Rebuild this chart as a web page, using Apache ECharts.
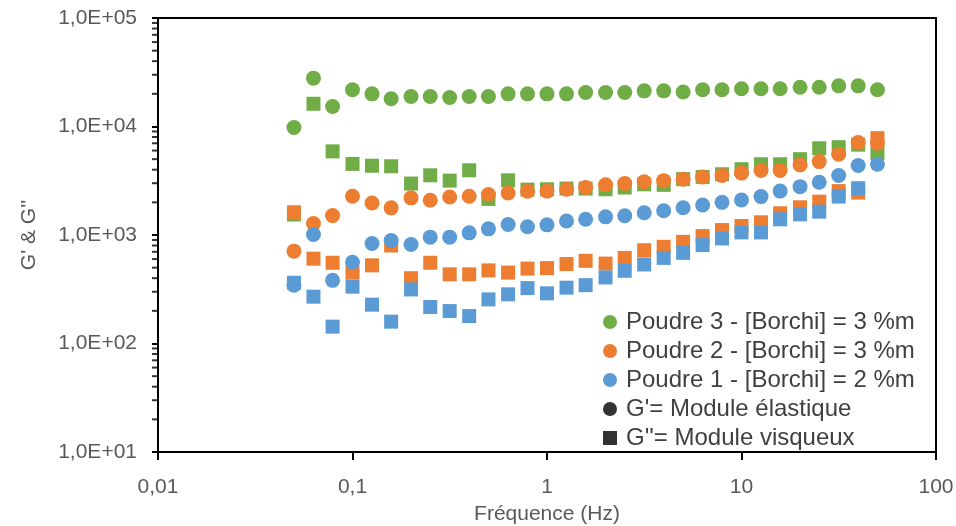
<!DOCTYPE html>
<html>
<head>
<meta charset="utf-8">
<script src="https://cdn.jsdelivr.net/npm/echarts@6/dist/echarts.min.js"></script>
<style>html,body{margin:0;padding:0;background:#fff}#c{width:956px;height:526px}</style>
</head>
<body>
<div id="c"></div>
<script>
// Frequencies (Hz)
const freq = [0.05, 0.063, 0.079, 0.1, 0.126, 0.158, 0.2, 0.251, 0.316, 0.398, 0.5, 0.631, 0.794,
  1, 1.26, 1.58, 2, 2.51, 3.16, 3.98, 5.01, 6.31, 7.94, 10, 12.6, 15.8, 20, 25.1, 31.6, 39.8, 50];

// Poudre 3 - G' (circles) and G'' (squares)
const p3Gp = [9800, 27900, 15300, 21800, 20000, 18000, 18900, 18900, 18500, 18900, 18900, 20000, 20000,
  20000, 20000, 20600, 20600, 20600, 21300, 21300, 20800, 21800, 21800, 22300, 22300, 22300, 23000, 23000, 23700, 23700, 21800];
const p3Gpp = [1545, 16200, 5900, 4520, 4350, 4300, 2980, 3550, 3170, 3950, 2150, 3190, 2620,
  2640, 2680, 2680, 2640, 2740, 2930, 2900, 3270, 3430, 3630, 4040, 4490, 4490, 5000, 6300, 6450, 6800, 5680];

// Poudre 2
const p2Gp = [710, 1275, 1510, 2275, 1975, 1780, 2200, 2090, 2240, 2275, 2360, 2440, 2530,
  2540, 2640, 2740, 2900, 2990, 3100, 3170, 3270, 3430, 3530, 3720, 3930, 3930, 4430, 4750, 5560, 7110, 7020];
const p2Gpp = [1620, 605, 555, 450, 525, 800, 400, 555, 434, 434, 472, 450, 490,
  495, 540, 578, 545, 615, 724, 778, 865, 977, 1110, 1210, 1310, 1585, 1800, 2030, 2540, 2460, 7810];

// Poudre 1
const p1Gp = [345, 1010, 382, 560, 835, 890, 818, 955, 955, 1047, 1140, 1250, 1190,
  1240, 1345, 1395, 1470, 1505, 1605, 1675, 1785, 1890, 2000, 2100, 2260, 2540, 2790, 3060, 3530, 4370, 4490];
const p1Gpp = [363, 270, 143, 334, 228, 159, 315, 217, 199, 179, 255, 284, 324,
  290, 327, 345, 406, 468, 535, 615, 685, 807, 930, 1057, 1057, 1395, 1550, 1640, 2260, 2700, null];

const names = ['Poudre 3 - [Borchi] = 3 %m', 'Poudre 2 - [Borchi] = 3 %m', 'Poudre 1 - [Borchi] = 2 %m'];
const nameGp = "G'= Module élastique";
const nameGpp = "G''= Module visqueux";
const colors = ['#70AD47', '#ED7D31', '#5B9BD5'];

// minor tick values for the log y axis
const yMinorTicks = [];
for (let e = 1; e < 5; e++) for (let m = 2; m <= 9; m++) yMinorTicks.push(m * Math.pow(10, e));

const FONT = 'Liberation Sans, Arial, sans-serif';
const pair = (ys) => freq.map((f, i) => [f, ys[i]]).filter(d => d[1] != null);

function sq(name, ys, color) {
  return { name, type: 'scatter', symbol: 'rect', symbolSize: 14, data: pair(ys),
    itemStyle: { color, opacity: 1 }, emphasis: { disabled: true }, animation: false };
}
function ci(name, ys, color) {
  return { name, type: 'scatter', symbol: 'circle', symbolSize: 15, data: pair(ys),
    itemStyle: { color, opacity: 1 }, emphasis: { disabled: true }, animation: false };
}

const chart = echarts.init(document.getElementById('c'), null, { renderer: 'canvas' });
chart.setOption({
  animation: false,
  backgroundColor: '#fff',
  grid: { left: 158, right: 20, top: 18, bottom: 74, show: true, borderColor: '#000', borderWidth: 2,
    backgroundColor: 'transparent', containLabel: false, outerBoundsMode: 'none' },
  xAxis: {
    type: 'log', logBase: 10, min: 0.01, max: 100,
    name: 'Fréquence (Hz)', nameLocation: 'middle', nameGap: 52,
    nameTextStyle: { fontSize: 21, color: '#595959', fontFamily: FONT },
    axisLine: { show: true, lineStyle: { color: '#000', width: 2 } },
    axisTick: { show: true, length: 8, lineStyle: { color: '#000', width: 2 } },
    minorTick: { show: false },
    splitLine: { show: false },
    axisLabel: { margin: 25, fontSize: 21, color: '#595959', fontFamily: FONT,
      formatter: v => { const e = Math.round(Math.log10(v)); return e < 0 ? ('0,' + '0'.repeat(-e - 1) + '1') : String(Math.pow(10, e)); } }
  },
  yAxis: {
    type: 'log', logBase: 10, min: 10, max: 100000,
    name: "G' & G''", nameLocation: 'middle', nameGap: 118,
    nameTextStyle: { fontSize: 21, color: '#595959', fontFamily: FONT },
    axisLine: { show: true, lineStyle: { color: '#000', width: 2 } },
    axisTick: { show: true, length: 6, lineStyle: { color: '#000', width: 2 } },
    minorTick: { show: false },
    splitLine: { show: false },
    axisLabel: { margin: 21, fontSize: 21, color: '#595959', fontFamily: FONT,
      formatter: v => { const e = Math.round(Math.log10(v)); return '1,0E+' + (e < 10 ? '0' : '') + e; } }
  },
  legend: {
    orient: 'vertical', left: 598, top: 305,
    itemWidth: 14, itemHeight: 14, itemGap: 5,
    selectedMode: false,
    textStyle: { fontSize: 24, lineHeight: 24, color: '#404040', fontFamily: FONT, padding: [0, 0, 0, 4] },
    data: [
      { name: names[0], icon: 'circle' },
      { name: names[1], icon: 'circle' },
      { name: names[2], icon: 'circle' },
      { name: nameGp, icon: 'circle' },
      { name: nameGpp, icon: 'rect' }
    ]
  },
  series: [
    {
      name: 'yMinorTicks', type: 'scatter', silent: true, clip: false, animation: false,
      symbol: 'rect', symbolSize: [6, 2], symbolOffset: [-3, 0],
      data: yMinorTicks.map(v => [0.01, v]),
      itemStyle: { color: '#000' }, emphasis: { disabled: true }, z: 5
    },
    sq('P3 G2', p3Gpp, colors[0]),
    ci(names[0], p3Gp, colors[0]),
    sq('P2 G2', p2Gpp, colors[1]),
    ci(names[1], p2Gp, colors[1]),
    sq('P1 G2', p1Gpp, colors[2]),
    ci(names[2], p1Gp, colors[2]),
    { name: nameGp, type: 'scatter', symbol: 'circle', data: [], itemStyle: { color: '#000' } },
    { name: nameGpp, type: 'scatter', symbol: 'rect', data: [], itemStyle: { color: '#000' } }
  ]
});
</script>
</body>
</html>
